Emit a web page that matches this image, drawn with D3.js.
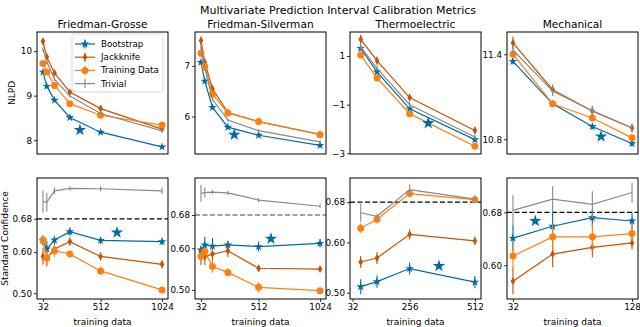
<!DOCTYPE html>
<html>
<head>
<meta charset="utf-8">
<script src="https://cdn.jsdelivr.net/npm/d3@7"></script>
<style>
  body { margin: 0; background: #fff; }
  svg { display: block; font-family: "DejaVu Sans", sans-serif; }
</style>
</head>
<body>
<svg id="fig" width="640" height="327"></svg>
<script>
// methods and colours (tableau colorblind style)
var methods = ["Bootstrap", "Jackknife", "Training Data", "Trivial"];
var colors = ["#006BA4", "#C85200", "#FF800E", "#898989"];
var datasets = ["Friedman-Grosse", "Friedman-Silverman", "Thermoelectric", "Mechanical"];

// training data sizes
var xFriedman = [32, 64, 128, 256, 512, 1024];
var xThermo = [64, 128, 256, 512];
var xMech = [32, 64, 96, 128];

// NLPD, rows = Bootstrap, Jackknife, Training Data, Trivial
var nlpdFG = [
  [9.53, 9.21, 8.90, 8.51, 8.18, 7.85],
  [10.22, 9.87, 9.51, 9.08, 8.71, 8.25],
  [9.72, 9.53, 9.23, 8.82, 8.56, 8.34],
  [10.04, 9.76, 9.37, 8.99, 8.60, 8.21]
];
var nlpdFGErr = [
  [0.03, 0.03, 0.03, 0.02, 0.02, 0.02],
  [0.08, 0.07, 0.06, 0.05, 0.05, 0.04],
  [0.04, 0.04, 0.03, 0.03, 0.03, 0.03],
  [0.05, 0.05, 0.04, 0.03, 0.03, 0.03]
];
var nlpdFS = [
  [7.07, 6.70, 6.18, 5.79, 5.63, 5.43],
  [7.50, 7.07, 6.55, 6.08, 5.90, 5.65],
  [7.25, 6.99, 6.44, 6.07, 5.90, 5.64],
  [7.38, 6.95, 6.34, 5.93, 5.72, 5.50]
];
var nlpdFSErr = [
  [0.04, 0.04, 0.03, 0.03, 0.02, 0.02],
  [0.08, 0.07, 0.06, 0.05, 0.04, 0.04],
  [0.05, 0.04, 0.04, 0.03, 0.03, 0.03],
  [0.05, 0.05, 0.04, 0.03, 0.03, 0.03]
];
var nlpdTE = [
  [1.32, 0.35, -1.17, -2.44],
  [1.69, 0.81, -0.71, -2.06],
  [1.04, 0.10, -1.37, -2.71],
  [1.38, 0.49, -1.00, -2.33]
];
var nlpdTEErr = [
  [0.10, 0.10, 0.10, 0.08],
  [0.19, 0.17, 0.16, 0.15],
  [0.08, 0.08, 0.08, 0.06],
  [0.15, 0.12, 0.12, 0.10]
];
var nlpdME = [
  [11.35, 11.05, 10.89, 10.77],
  [11.48, 11.15, 11.00, 10.88],
  [11.40, 11.05, 10.95, 10.81],
  [11.43, 11.14, 11.00, 10.88]
];
var nlpdMEErr = [
  [0.02, 0.02, 0.02, 0.02],
  [0.045, 0.035, 0.035, 0.03],
  [0.02, 0.02, 0.02, 0.02],
  [0.04, 0.035, 0.037, 0.03]
];

// standard confidence
var confFG = [
  [0.627, 0.607, 0.629, 0.649, 0.628, 0.625],
  [0.589, 0.585, 0.607, 0.625, 0.589, 0.570],
  [0.629, 0.585, 0.603, 0.595, 0.554, 0.508],
  [0.722, 0.720, 0.748, 0.754, 0.753, 0.748]
];
var confFGErr = [
  [0.012, 0.020, 0.010, 0.010, 0.008, 0.008],
  [0.020, 0.020, 0.012, 0.010, 0.010, 0.010],
  [0.012, 0.018, 0.015, 0.006, 0.010, 0.006],
  [0.027, 0.023, 0.008, 0.005, 0.006, 0.008]
];
var confFS = [
  [0.596, 0.608, 0.605, 0.608, 0.604, 0.612],
  [0.580, 0.580, 0.586, 0.594, 0.552, 0.550],
  [0.580, 0.592, 0.556, 0.542, 0.506, 0.498],
  [0.732, 0.734, 0.735, 0.733, 0.716, 0.701]
];
var confFSErr = [
  [0.010, 0.020, 0.020, 0.010, 0.012, 0.010],
  [0.020, 0.020, 0.020, 0.015, 0.008, 0.006],
  [0.010, 0.010, 0.015, 0.010, 0.012, 0.006],
  [0.020, 0.012, 0.005, 0.005, 0.005, 0.005]
];
var confTE = [
  [0.512, 0.522, 0.548, 0.521],
  [0.561, 0.569, 0.616, 0.603],
  [0.628, 0.646, 0.697, 0.685],
  [0.659, 0.652, 0.705, 0.686]
];
var confTEErr = [
  [0.015, 0.012, 0.012, 0.012],
  [0.012, 0.012, 0.010, 0.008],
  [0.010, 0.008, 0.005, 0.006],
  [0.018, 0.005, 0.010, 0.008]
];
var confME = [
  [0.641, 0.659, 0.672, 0.667],
  [0.576, 0.617, 0.627, 0.634],
  [0.614, 0.643, 0.643, 0.648],
  [0.683, 0.700, 0.692, 0.710]
];
var confMEErr = [
  [0.020, 0.023, 0.013, 0.013],
  [0.020, 0.020, 0.015, 0.010],
  [0.020, 0.020, 0.020, 0.012],
  [0.023, 0.020, 0.020, 0.015]
];

// lone star markers (x, value)
var starNlpd = [[340, 8.23], [309, 5.64], [329, -1.76], [103, 10.82]];
var starConf = [[649, 0.647], [615, 0.623], [371, 0.553], [50, 0.667]];

var targetConf = 0.68;

// tick labels
var xTicks = [[32, 512, 1024], [32, 512, 1024], [32, 256, 512], [32, 128]];
var nlpdTicks = [[8, 9, 10], [6, 7], [-3, -1, 1], [10.8, 11.4]];
var confTicks = [[0.50, 0.60, 0.68], [0.50, 0.60, 0.68], [0.50, 0.60, 0.68], [0.60, 0.68]];

// layout
var svg = d3.select("#fig");
var panelX = [37, 195, 350, 507], panelW = 131;
var rows = [{top: 32, h: 122}, {top: 178, h: 121}];
var xDomains = [[-17.6, 1073.6], [-17.6, 1073.6], [22, 536], [27.2, 132.8]];
var nlpdDomains = [[7.69, 10.43], [5.26, 7.67], [-3.03, 1.99], [10.696, 11.557]];
var confDomains = [[0.486, 0.779], [0.478, 0.769], [0.4875, 0.728], [0.549, 0.732]];
var xsets = [xFriedman, xFriedman, xThermo, xMech];

function marker(sel, k, size) {
  if (k == 0) {
    sel.append("path").attr("d", d3.symbol(d3.symbolStar, size * size * 0.55)());
  } else if (k == 1) {
    var r = size * 0.6;
    sel.append("path").attr("d", "M0," + (-r) + "L" + (r * 0.6) + ",0L0," + r + "L" + (-r * 0.6) + ",0Z");
  } else if (k == 2) {
    sel.append("circle").attr("r", size * 0.5);
  }
}

function drawPanel(col, row, values, errs, ydom, yticks, star, yfmt) {
  var h = rows[row].h, w = panelW;
  var g = svg.append("g").attr("transform", "translate(" + panelX[col] + "," + rows[row].top + ")");
  var x = d3.scaleLinear().domain(xDomains[col]).range([0, w]);
  var y = d3.scaleLinear().domain(ydom).range([h, 0]);

  if (row == 1) {
    g.append("line")
      .attr("x1", 0).attr("x2", w)
      .attr("y1", y(targetConf)).attr("y2", y(targetConf))
      .attr("stroke", col == 1 ? "#444" : "#000")
      .attr("stroke-width", col == 1 ? 1 : 1.4)
      .attr("stroke-dasharray", "5,2.5");
  }

  values.forEach(function(vals, k) {
    var pts = vals.map(function(v, i) { return {x: xsets[col][i], y: v, e: errs[k][i]}; });
    var s = g.append("g").attr("stroke", colors[k]).attr("fill", colors[k]);
    s.append("path").datum(pts)
      .attr("fill", "none")
      .attr("stroke-width", 1.2)
      .attr("d", d3.line().x(function(d) { return x(d.x); }).y(function(d) { return y(d.y); }));
    s.selectAll("line.err").data(pts).enter().append("line")
      .attr("class", "err")
      .attr("x1", function(d) { return x(d.x); })
      .attr("x2", function(d) { return x(d.x); })
      .attr("y1", function(d) { return y(d.y - d.e); })
      .attr("y2", function(d) { return y(d.y + d.e); })
      .attr("stroke-width", 1.1);
    if (k < 3) {
      s.selectAll("g.mk").data(pts).enter().append("g")
        .attr("class", "mk")
        .attr("stroke", "none")
        .attr("transform", function(d) { return "translate(" + x(d.x) + "," + y(d.y) + ")"; })
        .each(function() { marker(d3.select(this), k, k == 2 ? 7 : 6.5); });
    }
  });

  g.append("path")
    .attr("transform", "translate(" + x(star[0]) + "," + y(star[1]) + ")")
    .attr("d", d3.symbol(d3.symbolStar, 48)())
    .attr("fill", colors[0]);

  var ya = g.append("g")
    .call(d3.axisLeft(y).tickValues(yticks).tickFormat(yfmt).tickSize(3).tickPadding(2));
  ya.select(".domain").remove();
  ya.selectAll("text").attr("font-size", 8.8).attr("fill", "#000").attr("font-family", "DejaVu Sans");
  ya.selectAll("line").attr("stroke", "#000").attr("stroke-width", 0.8);

  if (row == 1) {
    var xa = g.append("g")
      .attr("transform", "translate(0," + h + ")")
      .call(d3.axisBottom(x).tickValues(xTicks[col]).tickFormat(d3.format("d")).tickSize(3).tickPadding(2));
    xa.select(".domain").remove();
    xa.selectAll("text").attr("font-size", 8.8).attr("fill", "#000").attr("font-family", "DejaVu Sans");
    xa.selectAll("line").attr("stroke", "#000").attr("stroke-width", 0.8);

    g.append("text")
      .attr("x", w / 2).attr("y", h + 26)
      .attr("text-anchor", "middle")
      .attr("font-size", 9)
      .text("training data");
  } else {
    g.append("text")
      .attr("x", w / 2).attr("y", -4)
      .attr("text-anchor", "middle")
      .attr("font-size", 10.6)
      .text(datasets[col]);
  }

  g.append("rect")
    .attr("width", w).attr("height", h)
    .attr("fill", "none").attr("stroke", "#000").attr("stroke-width", 1);
}

var fmtNum = function(d) { return d3.format("")(d).replace("-", "\u2212"); };
var fmt2 = d3.format(".2f");

var nlpdSets = [[nlpdFG, nlpdFGErr], [nlpdFS, nlpdFSErr], [nlpdTE, nlpdTEErr], [nlpdME, nlpdMEErr]];
var confSets = [[confFG, confFGErr], [confFS, confFSErr], [confTE, confTEErr], [confME, confMEErr]];

for (var c = 0; c < 4; c++) {
  drawPanel(c, 0, nlpdSets[c][0], nlpdSets[c][1], nlpdDomains[c], nlpdTicks[c], starNlpd[c],
            c == 3 ? d3.format(".1f") : fmtNum);
  drawPanel(c, 1, confSets[c][0], confSets[c][1], confDomains[c], confTicks[c], starConf[c], fmt2);
}

// legend in first panel
var leg = svg.append("g").attr("transform", "translate(72,34)");
leg.append("rect")
  .attr("width", 91).attr("height", 58).attr("rx", 2)
  .attr("fill", "#fff").attr("fill-opacity", 0.8)
  .attr("stroke", "#d0d0d0").attr("stroke-width", 0.8);
var items = leg.selectAll("g.item").data(methods).enter().append("g")
  .attr("transform", function(d, i) { return "translate(0," + (10 + i * 13.2) + ")"; });
items.append("line")
  .attr("x1", 3).attr("x2", 23)
  .attr("stroke", function(d, i) { return colors[i]; })
  .attr("stroke-width", 1.2);
items.append("line")
  .attr("x1", 13).attr("x2", 13).attr("y1", -4.5).attr("y2", 4.5)
  .attr("stroke", function(d, i) { return colors[i]; })
  .attr("stroke-width", 1.1);
items.each(function(d, i) {
  if (i < 3) {
    var m = d3.select(this).append("g").attr("transform", "translate(13,0)").attr("fill", colors[i]);
    marker(m, i, i == 2 ? 7 : 6.5);
  }
});
items.append("text")
  .attr("x", 29).attr("y", 0).attr("dy", "0.35em")
  .attr("font-size", 8.7)
  .text(function(d) { return d; });

// titles and y labels
svg.append("text")
  .attr("x", 338).attr("y", 14)
  .attr("text-anchor", "middle")
  .attr("font-size", 11)
  .text("Multivariate Prediction Interval Calibration Metrics");

svg.append("text")
  .attr("transform", "translate(15," + (rows[0].top + rows[0].h / 2) + ") rotate(-90)")
  .attr("text-anchor", "middle")
  .attr("font-size", 9)
  .text("NLPD");

svg.append("text")
  .attr("transform", "translate(7.5," + (rows[1].top + rows[1].h / 2) + ") rotate(-90)")
  .attr("text-anchor", "middle")
  .attr("font-size", 9)
  .text("Standard Confidence");
</script>
</body>
</html>
